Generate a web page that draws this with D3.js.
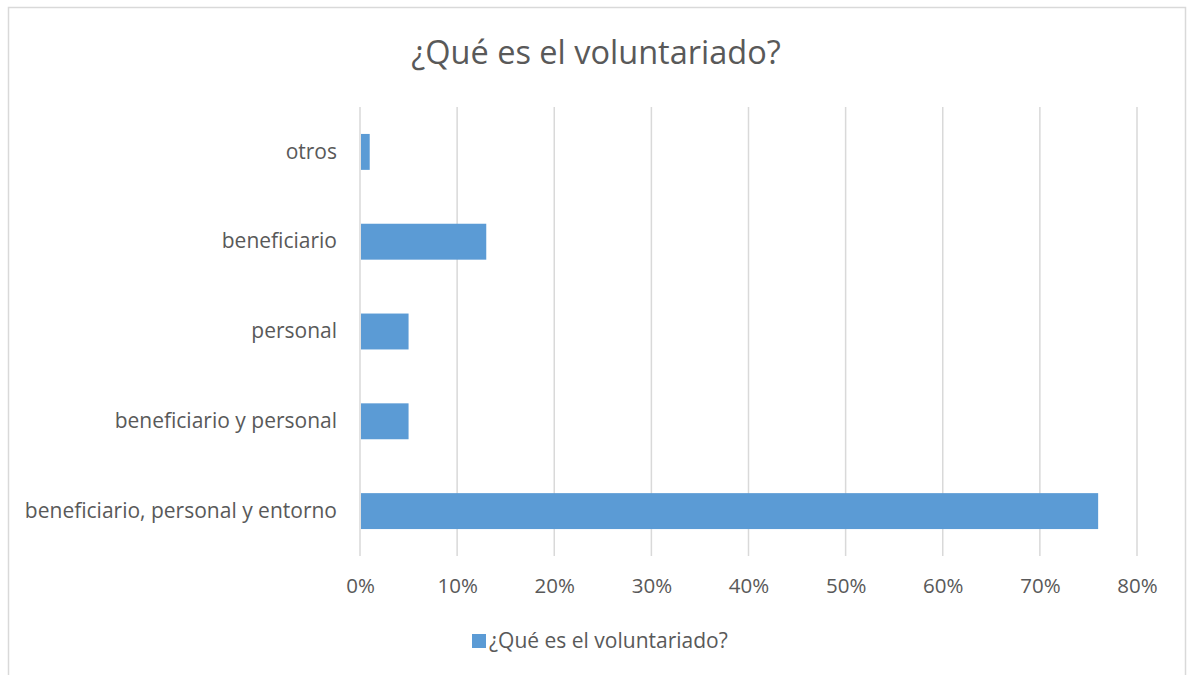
<!DOCTYPE html>
<html>
<head>
<meta charset="utf-8">
<script src="https://cdn.jsdelivr.net/npm/d3@7"></script>
<style>
  html, body { margin: 0; padding: 0; background: #fff; }
  svg { display: block; font-family: "Open Sans", sans-serif; }
</style>
</head>
<body>
<div id="chart"></div>
<script>
const title = "¿Qué es el voluntariado?";
const seriesName = "¿Qué es el voluntariado?";
// bottom to top, as in the picture
const categories = ["beneficiario, personal y entorno", "beneficiario y personal", "personal", "beneficiario", "otros"];
const values = [76, 5, 5, 13, 1];
const ticks = [0, 10, 20, 30, 40, 50, 60, 70, 80];

const width = 1189, height = 675;
const margin = { top: 107, right: 52, bottom: 119, left: 360 };
const barColor = "#5b9bd5", textColor = "#595959", gridColor = "#d9d9d9";

const svg = d3.select("#chart").append("svg")
  .attr("width", width)
  .attr("height", height);

// chart frame
svg.append("rect")
  .attr("x", 8.5).attr("y", 7.5)
  .attr("width", 1177).attr("height", 700)
  .attr("fill", "#fff")
  .attr("stroke", gridColor).attr("stroke-width", 1.5);

svg.append("text")
  .attr("x", 596).attr("y", 64)
  .attr("text-anchor", "middle")
  .attr("font-size", 32.5)
  .attr("fill", textColor)
  .text(title);

const x = d3.scaleLinear()
  .domain([0, 80])
  .range([margin.left, width - margin.right]);

const y = d3.scaleBand()
  .domain(categories.slice().reverse())
  .range([margin.top, height - margin.bottom])
  .paddingInner(0.6)
  .paddingOuter(0.3);

// gridlines
svg.append("g")
  .selectAll("line")
  .data(ticks)
  .enter().append("line")
  .attr("x1", d => x(d)).attr("x2", d => x(d))
  .attr("y1", margin.top).attr("y2", height - margin.bottom)
  .attr("stroke", gridColor).attr("stroke-width", 1.5);

// x tick labels
const xAxis = d3.axisBottom(x)
  .tickValues(ticks)
  .tickFormat(d => d + "%")
  .tickSize(0)
  .tickPadding(22);

svg.append("g")
  .attr("transform", `translate(0,${height - margin.bottom})`)
  .call(xAxis)
  .call(g => g.select(".domain").remove())
  .call(g => g.selectAll("text")
    .attr("font-family", "Open Sans, sans-serif")
    .attr("font-size", 20.5)
    .attr("fill", textColor));

// category labels
const yAxis = d3.axisLeft(y).tickSize(0).tickPadding(23);
svg.append("g")
  .attr("transform", `translate(${margin.left},0)`)
  .call(yAxis)
  .call(g => g.select(".domain").remove())
  .call(g => g.selectAll("text")
    .attr("font-family", "Open Sans, sans-serif")
    .attr("font-size", 21)
    .attr("fill", textColor));

// bars
svg.append("g")
  .selectAll("rect")
  .data(categories.map((c, i) => ({ cat: c, val: values[i] })))
  .enter().append("rect")
  .attr("x", x(0) + 1)
  .attr("y", d => y(d.cat))
  .attr("width", d => x(d.val) - x(0) - 1)
  .attr("height", y.bandwidth())
  .attr("fill", barColor);

// legend
const legend = svg.append("g").attr("transform", "translate(472,634)");
legend.append("rect")
  .attr("width", 14).attr("height", 14)
  .attr("fill", barColor);
legend.append("text")
  .attr("x", 17).attr("y", 14)
  .attr("font-size", 21)
  .attr("fill", textColor)
  .text(seriesName);
</script>
</body>
</html>
